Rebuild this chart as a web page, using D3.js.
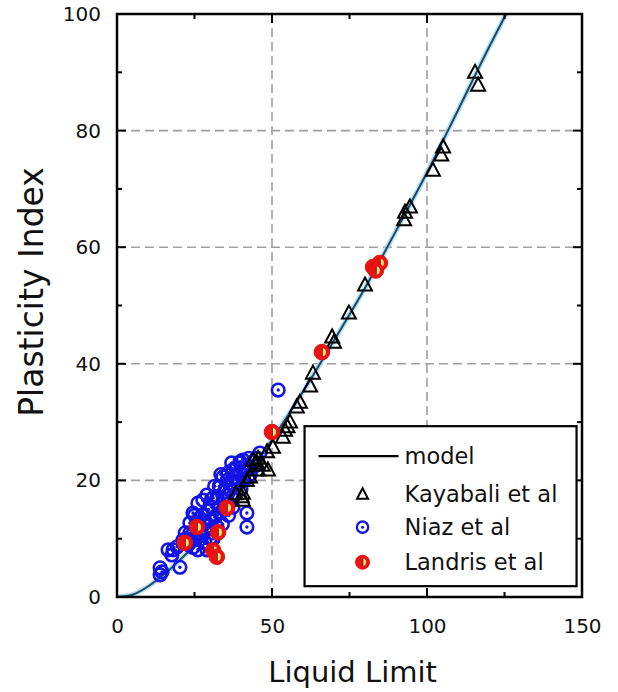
<!DOCTYPE html>
<html>
<head>
<meta charset="utf-8">
<script src="https://cdn.jsdelivr.net/npm/d3@7"></script>
<style>
  body { margin: 0; background: #fff; }
  text { font-family: "DejaVu Sans", Verdana, sans-serif; }
</style>
</head>
<body>
<div id="wrapper"></div>
<script>
// model curve
const modelLL = [0, 5, 10, 15, 20, 25, 30, 40, 50, 60, 70, 80, 90, 100, 110, 120, 126];
const modelPI = [0, 0.4, 1.8, 3.8, 6.2, 8.9, 12.2, 19.4, 27, 35.2, 44, 53, 62.8, 72.8, 83.5, 94.3, 100.5];

// Kayabali et al
const kayLL = [115.5, 116.5, 105.2, 104.6, 101.9, 94.5, 92.9, 92.6, 80, 74.8, 69.4, 70, 63.2, 62.3, 59, 58,
  55.8, 55, 54.2, 53.5, 50.3, 48.4, 45.5, 48.7, 45.5, 45.2, 47, 42.9, 41.9, 40.6, 40.3, 43.9, 38.4, 40.6];
const kayPI = [90, 87.8, 77.2, 75.8, 73.2, 66.9, 66, 64.7, 53.5, 48.7, 44.6, 43.7, 38.4, 36.2, 33.4, 32.6,
  30, 29.2, 28.6, 27.4, 25.7, 24.9, 23.8, 21.8, 21.8, 23, 22.6, 20.6, 20, 17.8, 17.2, 23.5, 17.7, 16.6];

// Niaz et al
const niazLL = [13.9, 14.5, 13.9, 20.3, 17.7, 18.1, 16.5, 19.4, 22.6, 23.5, 24.5, 26.1, 27.7, 25.2, 26.1,
  28.4, 29, 30, 30.6, 32.3, 33.2, 34.2, 35.8, 37.4, 39.7, 40.6, 41.9, 41.9, 35.5, 33.2, 31.6, 32.3, 29,
  26.8, 25.8, 23.5, 21.3, 35.5, 36.5, 38.7, 39.7, 34.2, 37.4, 46.1, 43.9, 39.7, 41.9, 52, 27.5, 30.5,
  28, 31, 33.5, 36.8, 38.5, 24, 44.5, 42.5,
  28, 29.5, 31, 33, 34.5, 36, 37.5, 30, 27, 25, 32, 34, 36, 38, 40.5, 42.5, 43, 45, 26.5, 23, 22,
  24.5, 29, 31.5, 33.5, 37, 41, 40];
const niazPI = [3.8, 4.3, 5.0, 5.1, 7.2, 8.1, 8.1, 8.6, 9.8, 12.7, 14.4, 16.1, 16.6, 9.8, 8.1,
  9.3, 11.5, 13.2, 15.4, 17.2, 18.9, 20.6, 21.3, 21.8, 23, 23.5, 14.4, 12, 17.5, 15.4, 13.7, 12, 8.1,
  11, 12.7, 11, 9.8, 20, 18.4, 19.6, 21.3, 16.6, 15.4, 24.7, 23.2, 23.2, 21.8, 35.5, 14, 16.8,
  12.5, 10, 14.5, 19.5, 22, 10.5, 22.5, 20.5,
  13, 15, 17, 19, 18, 16, 17.5, 10, 10.5, 14, 14, 12.5, 14, 20.5, 22, 23.8, 21, 23.8, 13.5, 9, 11,
  8.5, 17.5, 19, 21, 23, 20, 18.5];

// Landris et al
const landLL = [50, 66.1, 82.6, 84.8, 83.5, 35.5, 25.8, 32.6, 21.9, 31, 32.2];
const landPI = [28.3, 42, 56.6, 57.3, 56, 15.3, 12, 11.1, 9.3, 8, 6.9];

const xTicks = [0, 50, 100, 150];
const yTicks = [0, 20, 40, 60, 80, 100];
const legendLabels = ["model", "Kayabali et al", "Niaz et al", "Landris et al"];

const dimension = {
    width: 618,
    height: 692,
    margin: { top: 14, left: 117, bottom: 95, right: 36 }
};
dimension.boundedWidth = dimension.width - dimension.margin.left - dimension.margin.right;
dimension.boundedHeight = dimension.height - dimension.margin.top - dimension.margin.bottom;

const svg = d3.select("#wrapper")
    .append("svg")
    .attr("width", dimension.width)
    .attr("height", dimension.height);

const bounds = svg.append("g")
    .attr("transform", `translate(${dimension.margin.left},${dimension.margin.top})`);

const xScaler = d3.scaleLinear().domain([0, 150]).range([0, dimension.boundedWidth]);
const yScaler = d3.scaleLinear().domain([0, 100]).range([dimension.boundedHeight, 0]);

// clip
svg.append("defs").append("clipPath").attr("id", "plotclip")
    .append("rect")
    .attr("width", dimension.boundedWidth)
    .attr("height", dimension.boundedHeight);

// grid
const grid = bounds.append("g");
grid.selectAll("line.gx")
    .data([50, 100])
    .join("line")
    .attr("x1", d => xScaler(d)).attr("x2", d => xScaler(d))
    .attr("y1", 0).attr("y2", dimension.boundedHeight)
    .attr("stroke", "#a0a0a0").attr("stroke-width", 1.6).attr("stroke-dasharray", "9 5");
grid.selectAll("line.gy")
    .data([20, 40, 60, 80])
    .join("line")
    .attr("y1", d => yScaler(d)).attr("y2", d => yScaler(d))
    .attr("x1", 0).attr("x2", dimension.boundedWidth)
    .attr("stroke", "#a0a0a0").attr("stroke-width", 1.6).attr("stroke-dasharray", "9 5");

// model line
const model = modelLL.map((d, i) => [d, modelPI[i]]);
const lineGen = d3.line()
    .x(d => xScaler(d[0]))
    .y(d => yScaler(d[1]))
    .curve(d3.curveMonotoneX);
const plot = bounds.append("g").attr("clip-path", "url(#plotclip)");
plot.append("path").datum(model)
    .attr("d", lineGen).attr("fill", "none")
    .attr("stroke", "#9fd6f0").attr("stroke-width", 5).attr("opacity", 0.8);
plot.append("path").datum(model)
    .attr("d", lineGen).attr("fill", "none")
    .attr("stroke", "#1e4a66").attr("stroke-width", 2);

// markers
const triPath = "M0,-7.5L7,5.5L-7,5.5Z";

function drawNiaz(sel) {
    sel.append("circle").attr("r", 6.3)
        .attr("fill", "none").attr("stroke", "#1414e6").attr("stroke-width", 2.6);
    sel.append("circle").attr("r", 1.7).attr("fill", "#1414e6");
}
function drawLandris(sel) {
    sel.append("circle").attr("r", 7.8).attr("fill", "#ee1111").attr("stroke", "#e01010").attr("stroke-width", 1);
    sel.append("path")
        .attr("d", "M0.5,-4A3.5,4 0 0 1 0.5,4Z")
        .attr("fill", "#ffe070");
    sel.append("line").attr("x1", 0.5).attr("x2", 0.5).attr("y1", -4).attr("y2", 4)
        .attr("stroke", "#333").attr("stroke-width", 0.8);
}

const niaz = niazLL.map((d, i) => [d, niazPI[i]]);
plot.append("g").selectAll("g")
    .data(niaz)
    .join("g")
    .attr("transform", d => `translate(${xScaler(d[0])},${yScaler(d[1])})`)
    .call(drawNiaz);

const kay = kayLL.map((d, i) => [d, kayPI[i]]);
plot.append("g").selectAll("path")
    .data(kay)
    .join("path")
    .attr("d", triPath)
    .attr("transform", d => `translate(${xScaler(d[0])},${yScaler(d[1])})`)
    .attr("fill", "none").attr("stroke", "#000").attr("stroke-width", 2);

const land = landLL.map((d, i) => [d, landPI[i]]);
plot.append("g").selectAll("g")
    .data(land)
    .join("g")
    .attr("transform", d => `translate(${xScaler(d[0])},${yScaler(d[1])})`)
    .call(drawLandris);

// axes
const tickStroke = g => g.selectAll("line").attr("stroke", "#000").attr("stroke-width", 2);
const xAxisGen = d3.axisBottom(xScaler).tickValues(xTicks).tickSize(0).tickPadding(22);
bounds.append("g")
    .attr("transform", `translate(0,${dimension.boundedHeight})`)
    .call(xAxisGen)
    .call(g => g.select(".domain").remove())
    .selectAll("text").attr("font-size", 20).attr("fill", "#111");
const yAxisGen = d3.axisLeft(yScaler).tickValues(yTicks).tickSize(0).tickPadding(16);
bounds.append("g")
    .call(yAxisGen)
    .call(g => g.select(".domain").remove())
    .selectAll("text").attr("font-size", 20).attr("fill", "#111");

// inward ticks on all four sides
const ticks = bounds.append("g");
const xMajor = [50, 100], xMinor = [25, 75, 125];
const yMajor = [20, 40, 60, 80], yMinor = [10, 30, 50, 70, 90];
[[xMajor, 9], [xMinor, 5]].forEach(([vals, len]) => {
    ticks.selectAll(null).data(vals).join("line")
        .attr("x1", d => xScaler(d)).attr("x2", d => xScaler(d))
        .attr("y1", dimension.boundedHeight).attr("y2", dimension.boundedHeight - len);
    ticks.selectAll(null).data(vals).join("line")
        .attr("x1", d => xScaler(d)).attr("x2", d => xScaler(d))
        .attr("y1", 0).attr("y2", len);
});
[[yMajor, 9], [yMinor, 5]].forEach(([vals, len]) => {
    ticks.selectAll(null).data(vals).join("line")
        .attr("y1", d => yScaler(d)).attr("y2", d => yScaler(d))
        .attr("x1", 0).attr("x2", len);
    ticks.selectAll(null).data(vals).join("line")
        .attr("y1", d => yScaler(d)).attr("y2", d => yScaler(d))
        .attr("x1", dimension.boundedWidth).attr("x2", dimension.boundedWidth - len);
});
ticks.call(tickStroke);

bounds.append("rect")
    .attr("width", dimension.boundedWidth)
    .attr("height", dimension.boundedHeight)
    .attr("fill", "none").attr("stroke", "#000").attr("stroke-width", 2.5);

// legend
const legend = bounds.append("g")
    .attr("transform", `translate(${xScaler(60.5)},${yScaler(29.3)})`);
legend.append("rect")
    .attr("width", 272).attr("height", 160)
    .attr("fill", "#fff").attr("stroke", "#000").attr("stroke-width", 2.2);
const rowY = [30, 68, 101, 136];
legend.append("line").attr("x1", 14).attr("x2", 94).attr("y1", rowY[0]).attr("y2", rowY[0])
    .attr("stroke", "#000").attr("stroke-width", 2.2);
legend.append("path").attr("d", "M0,-6L5.5,4.5L-5.5,4.5Z")
    .attr("transform", `translate(58,${rowY[1]})`)
    .attr("fill", "none").attr("stroke", "#000").attr("stroke-width", 2);
legend.append("g").attr("transform", `translate(58,${rowY[2]}) scale(0.9)`).call(drawNiaz);
legend.append("g").attr("transform", `translate(58,${rowY[3]}) scale(0.9)`).call(drawLandris);
legend.selectAll("text.lab")
    .data(legendLabels)
    .join("text")
    .attr("x", 100)
    .attr("y", (d, i) => rowY[i])
    .attr("dy", "0.35em")
    .attr("font-size", 22.5)
    .attr("fill", "#111")
    .text(d => d);

// axis titles
svg.append("text")
    .attr("x", dimension.margin.left + xScaler(76))
    .attr("y", 682)
    .attr("text-anchor", "middle")
    .attr("font-family", "'DejaVu Sans Condensed', 'DejaVu Sans', sans-serif")
    .attr("font-size", 29)
    .attr("fill", "#111")
    .text("Liquid Limit");

svg.append("text")
    .attr("transform", "translate(43,292) rotate(-90)")
    .attr("text-anchor", "middle")
    .attr("font-family", "'DejaVu Sans Condensed', 'DejaVu Sans', sans-serif")
    .attr("font-size", 33)
    .attr("fill", "#111")
    .text("Plasticity Index");
</script>
</body>
</html>
